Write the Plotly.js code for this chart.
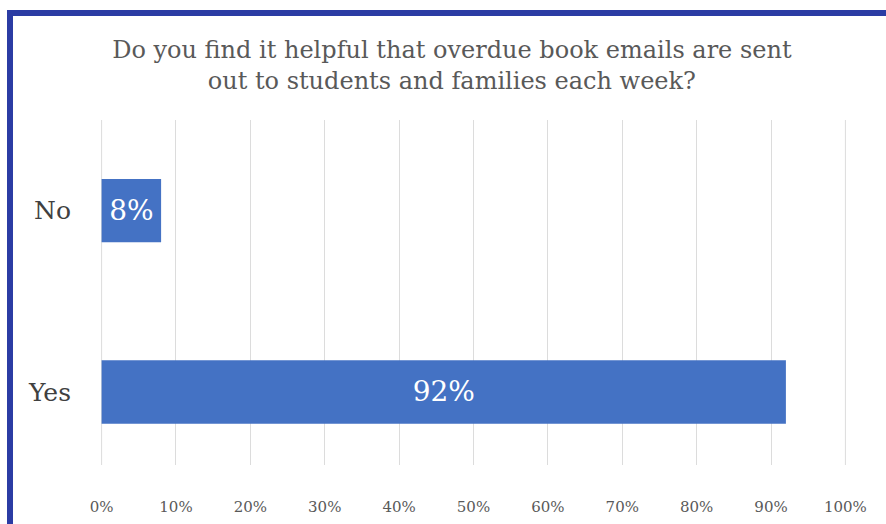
<!DOCTYPE html>
<html>
<head>
<meta charset="utf-8">
<script src="https://cdn.plot.ly/plotly-3.0.1.min.js"></script>
<style>
  html, body { margin: 0; padding: 0; background: #ffffff; overflow: hidden; }
  #wrap { position: relative; width: 886px; height: 524px; }
  #chart { position: absolute; left: 0; top: 0; width: 886px; height: 524px; }
  #frame { position: absolute; left: 7px; top: 10px; width: 900px; height: 540px;
           border-left: 6px solid #2b3ca4; border-top: 6px solid #2b3ca4; pointer-events: none; }
</style>
</head>
<body>
<div id="wrap">
  <div id="chart"></div>
  <div id="frame"></div>
</div>
<script>
const categories = ['Yes', 'No'];
const percentValues = [92, 8];
const titleText = 'Do you find it helpful that overdue book emails are sent<br>out to students and families each week?';
const tickValues = [0, 10, 20, 30, 40, 50, 60, 70, 80, 90, 100];
const tickLabels = ['0%', '10%', '20%', '30%', '40%', '50%', '60%', '70%', '80%', '90%', '100%'];

const serif = '"DejaVu Serif", "Liberation Serif", serif';
const gridColor = '#dcdcdc';

const trace = {
  type: 'bar',
  orientation: 'h',
  y: categories,
  x: percentValues,
  width: 0.35,
  marker: { color: '#4472c4' },
  text: percentValues.map(v => v + '%'),
  textposition: 'inside',
  insidetextanchor: 'middle',
  constraintext: 'none',
  textfont: { family: serif, size: 28, color: '#ffffff' },
  hoverinfo: 'none'
};

// edge gridlines (0% and 100%) which Plotly omits at the plot border
const edgeLines = [tickValues[0], tickValues[tickValues.length - 1]].map(v => ({
  type: 'line', xref: 'x', yref: 'paper', x0: v, x1: v, y0: 0, y1: 1,
  line: { color: gridColor, width: 1 }, layer: 'below'
}));

const layout = {
  width: 886,
  height: 524,
  paper_bgcolor: '#ffffff',
  plot_bgcolor: '#ffffff',
  margin: { l: 101, r: 40, t: 120, b: 59 },
  showlegend: false,
  title: {
    text: titleText,
    font: { family: serif, size: 24, color: '#595959' },
    x: 0.51, xanchor: 'center',
    y: 0.89, yanchor: 'top'
  },
  xaxis: {
    range: [-0.08, 100.08],
    tickvals: tickValues,
    ticktext: tickLabels,
    showgrid: true,
    gridcolor: gridColor,
    gridwidth: 1,
    zeroline: false,
    showline: false,
    ticks: 'outside',
    ticklen: 28,
    tickcolor: 'rgba(0,0,0,0)',
    tickfont: { family: serif, size: 15, color: '#595959' },
    fixedrange: true
  },
  yaxis: {
    type: 'category',
    categoryorder: 'array',
    categoryarray: categories,
    range: [-0.403, 1.5],
    showgrid: false,
    zeroline: false,
    showline: false,
    ticks: 'outside',
    ticklen: 24,
    tickcolor: 'rgba(0,0,0,0)',
    tickfont: { family: serif, size: 25, color: '#404040' },
    fixedrange: true
  },
  shapes: edgeLines,
  bargap: 0.65
};

Plotly.newPlot('chart', [trace], layout, { displayModeBar: false, staticPlot: true });
</script>
</body>
</html>
